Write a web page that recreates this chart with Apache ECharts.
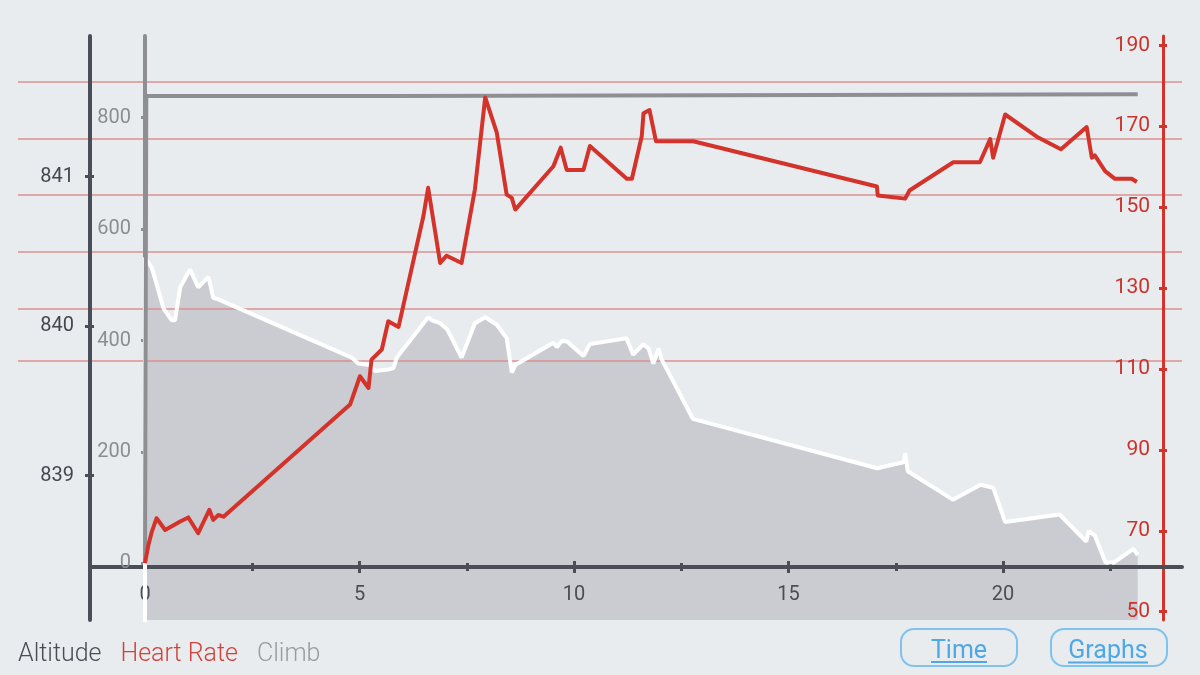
<!DOCTYPE html>
<html><head><meta charset="utf-8">
<script src="https://cdn.jsdelivr.net/npm/echarts@6/dist/echarts.min.js"></script>
<style>html,body{margin:0;padding:0;background:#e9ecef;}#c{width:1200px;height:675px;}</style>
</head><body><div id="c"></div>
<script>
// ---- data (time along x) ----
const altTimes = [0,0,0.16,0.31,0.43,0.62,0.70,0.82,1.05,1.24,1.48,1.59,1.71,4.82,4.97,5.25,5.36,5.67,5.79,5.87,6.60,6.68,6.88,7.04,7.38,7.69,7.93,8.20,8.43,8.55,8.63,9.52,9.60,9.71,9.83,10.22,10.37,11.22,11.38,11.62,11.74,11.85,11.97,12.04,12.77,17.07,17.68,17.72,17.78,18.83,19.48,19.77,20.05,21.32,21.94,22.00,22.14,22.39,22.59,23.04,23.14];
const altValues = [838.0,840.46,840.39,840.24,840.12,840.04,840.04,840.26,840.38,840.26,840.33,840.19,840.18,839.79,839.75,839.74,839.70,839.71,839.72,839.79,840.06,840.04,840.02,839.98,839.79,840.02,840.06,840.01,839.92,839.69,839.74,839.89,839.86,839.90,839.90,839.80,839.88,839.92,839.81,839.88,839.85,839.75,839.85,839.78,839.38,839.05,839.09,839.15,839.03,838.84,838.94,838.92,838.69,838.74,838.56,838.63,838.60,838.42,838.42,838.51,838.47];
const hrTimes = [0,0.08,0.16,0.27,0.47,0.82,1.01,1.24,1.50,1.59,1.71,1.83,4.78,5.01,5.21,5.28,5.52,5.67,5.91,6.49,6.60,6.88,7.03,7.38,7.69,7.93,8.20,8.43,8.55,8.63,9.52,9.69,9.83,10.22,10.37,11.23,11.35,11.58,11.62,11.76,11.91,12.78,17.06,17.08,17.72,17.82,18.84,19.46,19.70,19.77,20.05,20.82,21.35,21.95,22.07,22.14,22.38,22.61,23.00,23.12];
const hrValues = [62,66.5,69.8,73.1,70.2,72.3,73.3,69.4,75.2,72.7,73.9,73.5,101.2,108.2,105.3,112.3,114.8,121.8,120.4,147.8,154.8,136.2,138.0,136.2,154.4,177.1,168.4,153.1,152.3,149.4,160.1,164.7,159.2,159.2,165.1,157.0,157.0,167.6,173.2,174.0,166.3,166.3,155.1,152.9,152.1,154.1,161.1,161.1,166.8,162.2,172.9,167.2,164.3,169.8,162.2,162.8,158.9,157.0,157.0,156.2];
const climbTimes = [0,0.03,5.86,5.9,23.14];
const climbValues = [0,839,839,842,842];
const hrZones = [181,167,153,139,125,112];

const xMajorTicks = [0,5,10,15,20];
const xMinorTicks = [2.5,7.5,12.5,17.5,22.5];
const altTicks = [839,840,841];
const climbTicks = [0,200,400,600,800];
const hrTicks = [50,70,90,110,130,150,170,190];

const legendNames = ['Altitude','Heart Rate','Climb'];

// ---- axis ranges ----
const X_RANGE = [-1.282, 24.172];
const ALT_RANGE = [838.035, 841.941];
const CLIMB_RANGE = [-101.8, 946.7];
const HR_RANGE = [47.95, 192.3];

const zip = (a, b) => a.map((v, i) => [v, b[i]]);

const C = {
  bg:'#e9ecef', fill:'#cbccd1', dark:'#4b4e56', darkText:'#44474e',
  climb:'#8e8f93', climbText:'#8c8d91', hr:'#d3332a', hrText:'#c9332b',
  zone:'#dc9092', btn:'#7fc2ee', btnText:'#4fa8e6'
};
const FONT = 'Roboto';

function xAx(opts) {
  return Object.assign({
    type:'value', gridIndex:0, min:X_RANGE[0], max:X_RANGE[1], position:'bottom', offset:-53, z:3,
    splitLine:{show:false}, axisLine:{show:false, onZero:false},
    axisLabel:{show:false}, axisTick:{show:false}
  }, opts);
}
function yAx(opts) {
  return Object.assign({
    type:'value', gridIndex:0, splitLine:{show:false},
    axisLine:{show:false, onZero:false}, axisLabel:{show:false}, axisTick:{show:false}
  }, opts);
}

const option = {
  backgroundColor: C.bg,
  animation: false,
  textStyle: {fontFamily: FONT},
  grid: [
    {left:90, right:18, top:36, bottom:55, outerBoundsMode:'none', containLabel:false},
    {left:18, right:18, top:36, bottom:55, outerBoundsMode:'none', containLabel:false}
  ],
  xAxis: [
    xAx({
      axisLine:{show:true, onZero:false, lineStyle:{color:C.dark, width:4}},
      axisTick:{show:true, customValues:xMajorTicks, length:6, lineStyle:{color:C.dark, width:3}},
      axisLabel:{show:true, customValues:xMajorTicks, margin:18, fontSize:20, color:C.dark, fontFamily:FONT, showMinLabel:true, showMaxLabel:true}
    }),
    xAx({axisTick:{show:true, inside:true, customValues:xMajorTicks, length:6, lineStyle:{color:C.dark, width:3}}}),
    xAx({axisTick:{show:true, customValues:xMinorTicks, length:4, lineStyle:{color:C.dark, width:3}}}),
    xAx({axisTick:{show:true, inside:true, customValues:xMinorTicks, length:4, lineStyle:{color:C.dark, width:3}}}),
    {type:'value', gridIndex:1, min:0, max:1, show:false}
  ],
  yAxis: [
    yAx({ // 0 altitude
      position:'left', min:ALT_RANGE[0], max:ALT_RANGE[1], z:3,
      axisLine:{show:true, onZero:false, lineStyle:{color:C.dark, width:4}},
      axisTick:{show:true, customValues:altTicks, length:5, lineStyle:{color:C.dark, width:3}},
      axisLabel:{show:true, customValues:altTicks, margin:16, fontSize:20, color:C.darkText, fontFamily:FONT, showMinLabel:true, showMaxLabel:true}
    }),
    yAx({ // 1 climb
      position:'left', offset:-55, min:CLIMB_RANGE[0], max:CLIMB_RANGE[1], z:3,
      axisLine:{show:true, onZero:false, lineStyle:{color:C.climb, width:4}},
      axisTick:{show:true, customValues:climbTicks, length:4, lineStyle:{color:C.climb, width:3}},
      axisLabel:{show:true, customValues:climbTicks, margin:14, fontSize:20, color:C.climbText, fontFamily:FONT, showMinLabel:true, showMaxLabel:true}
    }),
    yAx({ // 2 heart rate
      position:'right', offset:-19, min:HR_RANGE[0], max:HR_RANGE[1], z:3,
      axisLine:{show:true, onZero:false, lineStyle:{color:C.hr, width:3}},
      axisTick:{show:true, customValues:hrTicks, length:4, lineStyle:{color:C.hr, width:3}},
      axisLabel:{show:true, inside:true, customValues:hrTicks, margin:13, fontSize:21, color:C.hrText, fontFamily:FONT, showMinLabel:true, showMaxLabel:true, hideOverlap:false}
    }),
    yAx({ // 3 altitude inner tick half
      position:'left', min:ALT_RANGE[0], max:ALT_RANGE[1], z:3,
      axisTick:{show:true, inside:true, customValues:altTicks, length:4, lineStyle:{color:C.dark, width:3}}
    }),
    yAx({ // 4 HR inner tick half
      position:'right', offset:-19, min:HR_RANGE[0], max:HR_RANGE[1], z:3,
      axisTick:{show:true, inside:true, customValues:hrTicks, length:4, lineStyle:{color:C.hr, width:3}}
    }),
    yAx({ // 5 heart-rate zone lines across full width
      gridIndex:1, position:'right', min:HR_RANGE[0], max:HR_RANGE[1], z:2,
      axisTick:{show:false, customValues:hrZones},
      splitLine:{show:true, lineStyle:{color:C.zone, width:1.6, type:'solid'}}
    })
  ],
  legend: {
    left:8, top:637, itemWidth:0, itemHeight:0, itemGap:14, icon:'rect', selectedMode:false,
    textStyle:{fontSize:25, fontFamily:FONT, fontWeight:300},
    data:[
      {name:legendNames[0], textStyle:{color:'#4a4d54'}},
      {name:legendNames[1], textStyle:{color:'#d0433a'}},
      {name:legendNames[2], textStyle:{color:'#9a9b9e'}}
    ]
  },
  series: [
    { // altitude fill
      name:legendNames[0], type:'line', xAxisIndex:0, yAxisIndex:0, z:1,
      data:zip(altTimes, altValues), symbol:'none', showSymbol:false,
      lineStyle:{width:0, opacity:0}, areaStyle:{color:C.fill, opacity:1, origin:'start'}, itemStyle:{color:C.fill}
    },
    { // altitude line
      name:legendNames[0], type:'line', xAxisIndex:0, yAxisIndex:0, z:4,
      data:zip(altTimes, altValues), symbol:'none', showSymbol:false,
      lineStyle:{color:'#ffffff', width:4}, itemStyle:{color:'#ffffff'}
    },
    { // climb
      name:legendNames[2], type:'line', xAxisIndex:0, yAxisIndex:1, z:4.5,
      data:zip(climbTimes, climbValues), symbol:'none', showSymbol:false,
      lineStyle:{color:C.climb, width:4}, itemStyle:{color:C.climb}
    },
    { // heart rate
      name:legendNames[1], type:'line', xAxisIndex:0, yAxisIndex:2, z:5,
      data:zip(hrTimes, hrValues), symbol:'none', showSymbol:false,
      lineStyle:{color:C.hr, width:4, join:'round'}, itemStyle:{color:C.hr}
    }
  ],
  graphic: {elements: [
    {type:'rect', shape:{x:901, y:629, width:116, height:37, r:13}, style:{fill:'rgba(0,0,0,0)', stroke:C.btn, lineWidth:2}},
    {type:'text', x:959, y:652, style:{text:'Time', fill:C.btnText, font:'25px Roboto', textAlign:'center', textVerticalAlign:'middle', verticalAlign:'middle'}},
    {type:'line', shape:{x1:931, y1:662, x2:987, y2:662}, style:{stroke:C.btnText, lineWidth:2}},
    {type:'rect', shape:{x:1051, y:629, width:116, height:37, r:13}, style:{fill:'rgba(0,0,0,0)', stroke:C.btn, lineWidth:2}},
    {type:'text', x:1108, y:652, style:{text:'Graphs', fill:C.btnText, font:'25px Roboto', textAlign:'center', textVerticalAlign:'middle', verticalAlign:'middle'}},
    {type:'line', shape:{x1:1068, y1:662.5, x2:1148, y2:662.5}, style:{stroke:C.btnText, lineWidth:2}}
  ]}
};

const chart = echarts.init(document.getElementById('c'), null, {renderer:'canvas'});
chart.setOption(option);
</script></body></html>
